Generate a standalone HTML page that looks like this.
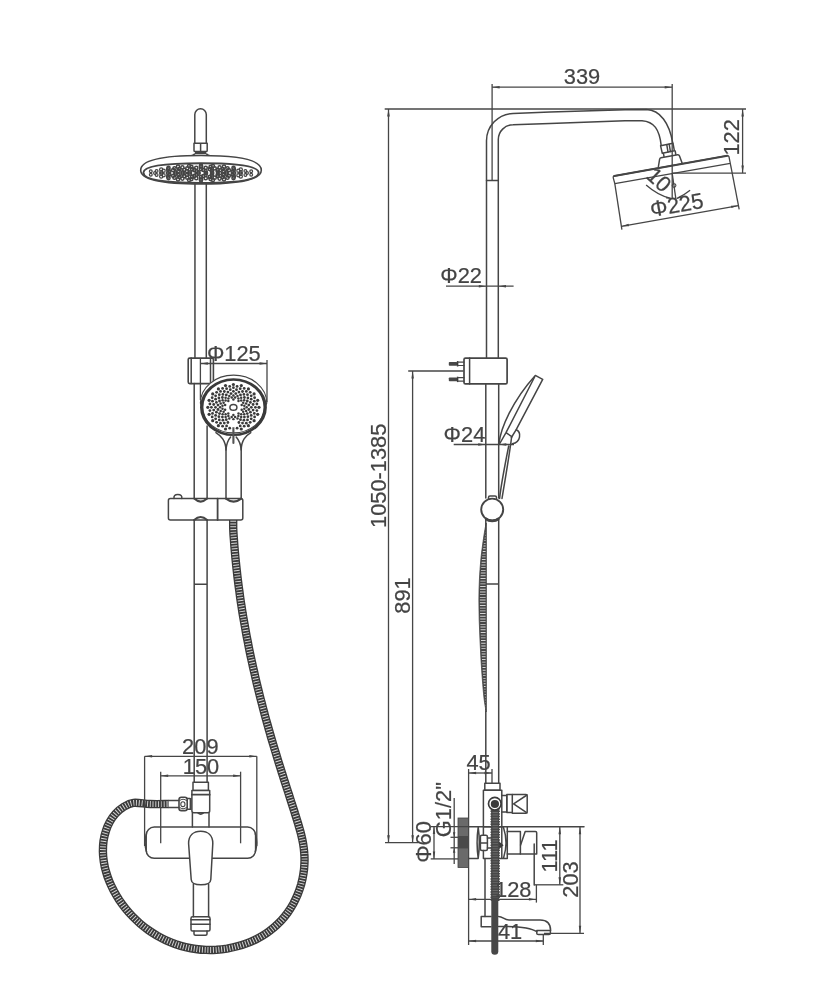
<!DOCTYPE html>
<html lang="en"><head><meta charset="utf-8"><title>Shower column dimensions</title>
<style>
html,body{margin:0;padding:0;background:#fff;}
body{width:817px;height:1000px;overflow:hidden;}
svg{display:block;will-change:transform;opacity:0.999;}
.l{fill:none;stroke:#454545;stroke-width:1.5;stroke-linejoin:round;stroke-linecap:round;}
.lf{fill:#fff;}
.d{fill:none;stroke:#464646;stroke-width:1.3;}
.ar{fill:#444;stroke:none;}
text{font-family:"Liberation Sans",Arial,Helvetica,sans-serif;font-size:21px;fill:#444;stroke:#444;stroke-width:0.2px;}
</style></head>
<body>
<svg width="817" height="1000" viewBox="0 0 817 1000">
<rect width="817" height="1000" fill="#fff"/>
<g id="left">
<path class="l" d="M194.8,143.2 V114.6 A5.75,5.8 0 0 1 206.3,114.6 V143.2"/>
<path class="l" d="M194,143.2 H207.2 V150.4 Q207.2,151.6 206,151.6 H195.2 Q194,151.6 194,150.4 Z M200.6,143.2 V151.4"/>
<path d="M195,152.9 H206.2" stroke="#454545" stroke-width="2.6" fill="none"/>
<path class="l" d="M190.4,155.9 Q193.6,155.4 194.6,154 M210.8,155.9 Q207.6,155.4 206.6,154"/>
<path class="l lf" d="M140.7,170.2 C140.7,160.4 160,155.5 201,155.5 C242,155.5 261.3,160.4 261.3,170.2 C261.3,179.4 242,184 201,184 C160,184 140.7,179.4 140.7,170.2 Z" style="stroke-width:1.6"/>
<path class="l" d="M143.4,172.6 C143.4,166.4 163,163.3 201,163.3 C239,163.3 258.6,166.4 258.6,172.6 C258.6,179.4 239,183 201,183 C163,183 143.4,179.4 143.4,172.6 Z" style="stroke-width:1.9"/>
<g fill="none" stroke="#444"><circle cx="206.0" cy="173.0" r="1.6" stroke-width="1.5"/><circle cx="198.5" cy="173.7" r="1.6" stroke-width="1.5"/><circle cx="198.5" cy="172.3" r="1.6" stroke-width="1.5"/><circle cx="212.1" cy="173.7" r="1.6" stroke-width="1.5"/><circle cx="205.6" cy="174.8" r="1.6" stroke-width="1.5"/><circle cx="196.4" cy="174.8" r="1.6" stroke-width="1.5"/><circle cx="189.9" cy="173.7" r="1.6" stroke-width="1.5"/><circle cx="189.9" cy="172.3" r="1.6" stroke-width="1.5"/><circle cx="196.4" cy="171.2" r="1.6" stroke-width="1.5"/><circle cx="205.6" cy="171.2" r="1.6" stroke-width="1.5"/><circle cx="212.1" cy="172.3" r="1.6" stroke-width="1.5"/><circle cx="220.0" cy="173.0" r="1.6" stroke-width="1.5"/><circle cx="217.8" cy="174.4" r="1.6" stroke-width="1.5"/><circle cx="211.8" cy="175.5" r="1.6" stroke-width="1.5"/><circle cx="203.3" cy="176.0" r="1.6" stroke-width="1.5"/><circle cx="194.3" cy="175.8" r="1.6" stroke-width="1.5"/><circle cx="186.8" cy="175.0" r="1.6" stroke-width="1.5"/><circle cx="182.6" cy="173.7" r="1.6" stroke-width="1.5"/><circle cx="182.6" cy="172.3" r="1.6" stroke-width="1.5"/><circle cx="186.8" cy="171.0" r="1.6" stroke-width="1.5"/><circle cx="194.3" cy="170.2" r="1.6" stroke-width="1.5"/><circle cx="203.3" cy="170.0" r="1.6" stroke-width="1.5"/><circle cx="211.8" cy="170.5" r="1.6" stroke-width="1.5"/><circle cx="217.8" cy="171.6" r="1.6" stroke-width="1.5"/><circle cx="226.6" cy="173.7" r="1.6" stroke-width="1.5"/><circle cx="223.5" cy="175.1" r="1.6" stroke-width="1.5"/><circle cx="217.7" cy="176.1" r="1.6" stroke-width="1.5"/><circle cx="209.9" cy="176.9" r="1.6" stroke-width="1.5"/><circle cx="201.0" cy="177.1" r="1.6" stroke-width="1.5"/><circle cx="192.1" cy="176.9" r="1.6" stroke-width="1.5"/><circle cx="184.3" cy="176.1" r="1.6" stroke-width="1.5"/><circle cx="178.5" cy="175.1" r="1.6" stroke-width="1.5"/><circle cx="175.4" cy="173.7" r="1.6" stroke-width="1.5"/><circle cx="175.4" cy="172.3" r="1.6" stroke-width="1.5"/><circle cx="178.5" cy="170.9" r="1.6" stroke-width="1.5"/><circle cx="184.3" cy="169.9" r="1.6" stroke-width="1.5"/><circle cx="192.1" cy="169.1" r="1.6" stroke-width="1.5"/><circle cx="201.0" cy="168.9" r="1.6" stroke-width="1.5"/><circle cx="209.9" cy="169.1" r="1.6" stroke-width="1.5"/><circle cx="217.7" cy="169.9" r="1.6" stroke-width="1.5"/><circle cx="223.5" cy="170.9" r="1.6" stroke-width="1.5"/><circle cx="226.6" cy="172.3" r="1.6" stroke-width="1.5"/><circle cx="234.0" cy="173.0" r="1.6" stroke-width="1.5"/><circle cx="232.7" cy="174.5" r="1.6" stroke-width="1.5"/><circle cx="228.8" cy="175.8" r="1.6" stroke-width="1.5"/><circle cx="222.6" cy="176.9" r="1.6" stroke-width="1.5"/><circle cx="214.7" cy="177.7" r="1.6" stroke-width="1.5"/><circle cx="205.7" cy="178.2" r="1.6" stroke-width="1.5"/><circle cx="196.3" cy="178.2" r="1.6" stroke-width="1.5"/><circle cx="187.3" cy="177.7" r="1.6" stroke-width="1.5"/><circle cx="179.4" cy="176.9" r="1.6" stroke-width="1.5"/><circle cx="173.2" cy="175.8" r="1.6" stroke-width="1.5"/><circle cx="169.3" cy="174.5" r="1.6" stroke-width="1.5"/><circle cx="168.0" cy="173.0" r="1.6" stroke-width="1.5"/><circle cx="169.3" cy="171.5" r="1.6" stroke-width="1.5"/><circle cx="173.2" cy="170.2" r="1.6" stroke-width="1.5"/><circle cx="179.4" cy="169.1" r="1.6" stroke-width="1.5"/><circle cx="187.3" cy="168.3" r="1.6" stroke-width="1.5"/><circle cx="196.3" cy="167.8" r="1.6" stroke-width="1.5"/><circle cx="205.7" cy="167.8" r="1.6" stroke-width="1.5"/><circle cx="214.7" cy="168.3" r="1.6" stroke-width="1.5"/><circle cx="222.6" cy="169.1" r="1.6" stroke-width="1.5"/><circle cx="228.8" cy="170.2" r="1.6" stroke-width="1.5"/><circle cx="232.7" cy="171.5" r="1.6" stroke-width="1.5"/><circle cx="240.7" cy="173.8" r="1.6" stroke-width="1.2"/><circle cx="238.4" cy="175.2" r="1.6" stroke-width="1.2"/><circle cx="233.9" cy="176.6" r="1.6" stroke-width="1.5"/><circle cx="227.5" cy="177.7" r="1.6" stroke-width="1.5"/><circle cx="219.6" cy="178.6" r="1.6" stroke-width="1.5"/><circle cx="210.6" cy="179.1" r="1.6" stroke-width="1.5"/><circle cx="201.0" cy="179.3" r="1.6" stroke-width="1.5"/><circle cx="191.4" cy="179.1" r="1.6" stroke-width="1.5"/><circle cx="182.4" cy="178.6" r="1.6" stroke-width="1.5"/><circle cx="174.5" cy="177.7" r="1.6" stroke-width="1.5"/><circle cx="168.1" cy="176.6" r="1.6" stroke-width="1.5"/><circle cx="163.6" cy="175.2" r="1.6" stroke-width="1.2"/><circle cx="161.3" cy="173.8" r="1.6" stroke-width="1.2"/><circle cx="161.3" cy="172.2" r="1.6" stroke-width="1.2"/><circle cx="163.6" cy="170.8" r="1.6" stroke-width="1.2"/><circle cx="168.1" cy="169.4" r="1.6" stroke-width="1.5"/><circle cx="174.5" cy="168.3" r="1.6" stroke-width="1.5"/><circle cx="182.4" cy="167.4" r="1.6" stroke-width="1.5"/><circle cx="191.4" cy="166.9" r="1.6" stroke-width="1.5"/><circle cx="201.0" cy="166.7" r="1.6" stroke-width="1.5"/><circle cx="210.6" cy="166.9" r="1.6" stroke-width="1.5"/><circle cx="219.6" cy="167.4" r="1.6" stroke-width="1.5"/><circle cx="227.5" cy="168.3" r="1.6" stroke-width="1.5"/><circle cx="233.9" cy="169.4" r="1.6" stroke-width="1.5"/><circle cx="238.4" cy="170.8" r="1.6" stroke-width="1.2"/><circle cx="240.7" cy="172.2" r="1.6" stroke-width="1.2"/><circle cx="247.0" cy="173.0" r="1.4" stroke-width="1.2"/><circle cx="245.4" cy="174.9" r="1.4" stroke-width="1.2"/><circle cx="240.8" cy="176.6" r="1.6" stroke-width="1.2"/><circle cx="233.5" cy="178.1" r="1.6" stroke-width="1.5"/><circle cx="224.0" cy="179.3" r="1.6" stroke-width="1.5"/><circle cx="212.9" cy="180.0" r="1.6" stroke-width="1.5"/><circle cx="201.0" cy="180.3" r="1.6" stroke-width="1.5"/><circle cx="189.1" cy="180.0" r="1.6" stroke-width="1.5"/><circle cx="178.0" cy="179.3" r="1.6" stroke-width="1.5"/><circle cx="168.5" cy="178.1" r="1.6" stroke-width="1.5"/><circle cx="161.2" cy="176.6" r="1.6" stroke-width="1.2"/><circle cx="156.6" cy="174.9" r="1.4" stroke-width="1.2"/><circle cx="155.0" cy="173.0" r="1.4" stroke-width="1.2"/><circle cx="156.6" cy="171.1" r="1.4" stroke-width="1.2"/><circle cx="161.2" cy="169.4" r="1.6" stroke-width="1.2"/><circle cx="168.5" cy="167.9" r="1.6" stroke-width="1.5"/><circle cx="178.0" cy="166.7" r="1.6" stroke-width="1.5"/><circle cx="189.1" cy="166.0" r="1.6" stroke-width="1.5"/><circle cx="201.0" cy="165.7" r="1.6" stroke-width="1.5"/><circle cx="212.9" cy="166.0" r="1.6" stroke-width="1.5"/><circle cx="224.0" cy="166.7" r="1.6" stroke-width="1.5"/><circle cx="233.5" cy="167.9" r="1.6" stroke-width="1.5"/><circle cx="240.8" cy="169.4" r="1.6" stroke-width="1.2"/><circle cx="245.4" cy="171.1" r="1.4" stroke-width="1.2"/><circle cx="251.2" cy="174.8" r="1.4" stroke-width="1.2"/><circle cx="150.8" cy="174.8" r="1.4" stroke-width="1.2"/><circle cx="150.8" cy="171.2" r="1.4" stroke-width="1.2"/><circle cx="251.2" cy="171.2" r="1.4" stroke-width="1.2"/></g>
<path class="l" d="M194.95,184 V357.8 M206.3,184 V357.8"/>
<path class="l" d="M194.2,383.4 V498.6 M207.1,426 V498.6"/>
<path class="l" d="M194.2,520 V782.5 M207.1,520 V782.5 M194.2,584.2 H207.1"/>
<rect class="l" x="188.2" y="358.1" width="25.2" height="25.5" rx="1.5" style="stroke-width:1.6"/>
<path class="l" d="M191.2,358 V383.6 M210.5,358 V383.6"/>
<path class="l lf" d="M200.4,403 A33.2,27.8 0 0 1 266.8,403 L265,407 A31.6,27.4 0 0 1 201.9,407 Z" style="stroke-width:1.2"/>
<path fill="#3a3a3a" fill-rule="evenodd" d="M200.0,407.2 a33.45,28.9 0 1 0 66.9,0 a33.45,28.9 0 1 0 -66.9,0 Z M203.4,407.2 a30.05,26.45 0 1 0 60.1,0 a30.05,26.45 0 1 0 -60.1,0 Z"/>
<g fill="#3a3a3a"><circle cx="233.4" cy="415.1" r="1.25"/><circle cx="233.4" cy="419.2" r="1.25"/><circle cx="231.7" cy="417.0" r="1.25"/><circle cx="229.7" cy="428.2" r="1.4"/><circle cx="229.3" cy="418.6" r="1.25"/><circle cx="227.9" cy="422.5" r="1.4"/><circle cx="226.6" cy="425.9" r="1.4"/><circle cx="225.5" cy="429.0" r="1.6"/><circle cx="228.4" cy="416.0" r="1.25"/><circle cx="226.3" cy="419.7" r="1.4"/><circle cx="224.3" cy="423.1" r="1.4"/><circle cx="222.6" cy="426.2" r="1.4"/><circle cx="228.3" cy="413.6" r="1.25"/><circle cx="225.6" cy="416.9" r="1.25"/><circle cx="222.9" cy="420.2" r="1.4"/><circle cx="220.5" cy="423.2" r="1.4"/><circle cx="218.4" cy="425.7" r="1.6"/><circle cx="225.6" cy="414.2" r="1.25"/><circle cx="222.4" cy="417.1" r="1.4"/><circle cx="219.3" cy="419.9" r="1.4"/><circle cx="216.6" cy="422.3" r="1.4"/><circle cx="222.6" cy="414.3" r="1.25"/><circle cx="218.9" cy="416.7" r="1.4"/><circle cx="215.6" cy="418.8" r="1.4"/><circle cx="212.7" cy="420.7" r="1.6"/><circle cx="223.6" cy="411.8" r="1.25"/><circle cx="219.5" cy="413.6" r="1.4"/><circle cx="215.6" cy="415.4" r="1.4"/><circle cx="212.2" cy="416.9" r="1.4"/><circle cx="225.1" cy="409.7" r="1.25"/><circle cx="220.7" cy="411.0" r="1.25"/><circle cx="216.4" cy="412.2" r="1.4"/><circle cx="212.5" cy="413.4" r="1.4"/><circle cx="209.1" cy="414.3" r="1.6"/><circle cx="222.5" cy="408.8" r="1.25"/><circle cx="218.0" cy="409.5" r="1.4"/><circle cx="213.7" cy="410.1" r="1.4"/><circle cx="209.9" cy="410.6" r="1.4"/><circle cx="220.1" cy="407.3" r="1.25"/><circle cx="215.5" cy="407.3" r="1.4"/><circle cx="211.4" cy="407.3" r="1.4"/><circle cx="207.8" cy="407.3" r="1.6"/><circle cx="222.5" cy="405.8" r="1.25"/><circle cx="218.0" cy="405.1" r="1.4"/><circle cx="213.7" cy="404.5" r="1.4"/><circle cx="209.9" cy="404.0" r="1.4"/><circle cx="225.1" cy="404.9" r="1.25"/><circle cx="220.7" cy="403.6" r="1.25"/><circle cx="216.4" cy="402.4" r="1.4"/><circle cx="212.5" cy="401.2" r="1.4"/><circle cx="209.1" cy="400.3" r="1.6"/><circle cx="223.6" cy="402.8" r="1.25"/><circle cx="219.5" cy="401.0" r="1.4"/><circle cx="215.6" cy="399.2" r="1.4"/><circle cx="212.2" cy="397.7" r="1.4"/><circle cx="222.6" cy="400.3" r="1.25"/><circle cx="218.9" cy="397.9" r="1.4"/><circle cx="215.6" cy="395.8" r="1.4"/><circle cx="212.7" cy="393.9" r="1.6"/><circle cx="225.6" cy="400.4" r="1.25"/><circle cx="222.4" cy="397.5" r="1.4"/><circle cx="219.3" cy="394.7" r="1.4"/><circle cx="216.6" cy="392.3" r="1.4"/><circle cx="228.3" cy="401.0" r="1.25"/><circle cx="225.6" cy="397.7" r="1.25"/><circle cx="222.9" cy="394.4" r="1.4"/><circle cx="220.5" cy="391.4" r="1.4"/><circle cx="218.4" cy="388.9" r="1.6"/><circle cx="228.4" cy="398.6" r="1.25"/><circle cx="226.3" cy="394.9" r="1.4"/><circle cx="224.3" cy="391.5" r="1.4"/><circle cx="222.6" cy="388.4" r="1.4"/><circle cx="229.3" cy="396.0" r="1.25"/><circle cx="227.9" cy="392.1" r="1.4"/><circle cx="226.6" cy="388.7" r="1.4"/><circle cx="225.5" cy="385.6" r="1.6"/><circle cx="231.7" cy="397.6" r="1.25"/><circle cx="231.0" cy="393.6" r="1.4"/><circle cx="230.3" cy="389.7" r="1.4"/><circle cx="229.7" cy="386.4" r="1.4"/><circle cx="233.4" cy="399.5" r="1.25"/><circle cx="233.4" cy="395.4" r="1.25"/><circle cx="233.4" cy="391.3" r="1.4"/><circle cx="233.4" cy="387.7" r="1.4"/><circle cx="233.4" cy="384.5" r="1.6"/><circle cx="235.1" cy="397.6" r="1.25"/><circle cx="235.8" cy="393.6" r="1.4"/><circle cx="236.5" cy="389.7" r="1.4"/><circle cx="237.1" cy="386.4" r="1.4"/><circle cx="237.5" cy="396.0" r="1.25"/><circle cx="238.9" cy="392.1" r="1.4"/><circle cx="240.2" cy="388.7" r="1.4"/><circle cx="241.3" cy="385.6" r="1.6"/><circle cx="238.4" cy="398.6" r="1.25"/><circle cx="240.5" cy="394.9" r="1.4"/><circle cx="242.5" cy="391.5" r="1.4"/><circle cx="244.2" cy="388.4" r="1.4"/><circle cx="238.5" cy="401.0" r="1.25"/><circle cx="241.2" cy="397.7" r="1.25"/><circle cx="243.9" cy="394.4" r="1.4"/><circle cx="246.3" cy="391.4" r="1.4"/><circle cx="248.4" cy="388.9" r="1.6"/><circle cx="241.2" cy="400.4" r="1.25"/><circle cx="244.4" cy="397.5" r="1.4"/><circle cx="247.5" cy="394.7" r="1.4"/><circle cx="250.2" cy="392.3" r="1.4"/><circle cx="244.2" cy="400.3" r="1.25"/><circle cx="247.9" cy="397.9" r="1.4"/><circle cx="251.2" cy="395.8" r="1.4"/><circle cx="254.1" cy="393.9" r="1.6"/><circle cx="243.2" cy="402.8" r="1.25"/><circle cx="247.3" cy="401.0" r="1.4"/><circle cx="251.2" cy="399.2" r="1.4"/><circle cx="254.6" cy="397.7" r="1.4"/><circle cx="241.7" cy="404.9" r="1.25"/><circle cx="246.1" cy="403.6" r="1.25"/><circle cx="250.4" cy="402.4" r="1.4"/><circle cx="254.3" cy="401.2" r="1.4"/><circle cx="257.7" cy="400.3" r="1.6"/><circle cx="244.3" cy="405.8" r="1.25"/><circle cx="248.8" cy="405.1" r="1.4"/><circle cx="253.1" cy="404.5" r="1.4"/><circle cx="256.9" cy="404.0" r="1.4"/><circle cx="246.7" cy="407.3" r="1.25"/><circle cx="251.3" cy="407.3" r="1.4"/><circle cx="255.4" cy="407.3" r="1.4"/><circle cx="259.0" cy="407.3" r="1.6"/><circle cx="244.3" cy="408.8" r="1.25"/><circle cx="248.8" cy="409.5" r="1.4"/><circle cx="253.1" cy="410.1" r="1.4"/><circle cx="256.9" cy="410.6" r="1.4"/><circle cx="241.7" cy="409.7" r="1.25"/><circle cx="246.1" cy="411.0" r="1.25"/><circle cx="250.4" cy="412.2" r="1.4"/><circle cx="254.3" cy="413.4" r="1.4"/><circle cx="257.7" cy="414.3" r="1.6"/><circle cx="243.2" cy="411.8" r="1.25"/><circle cx="247.3" cy="413.6" r="1.4"/><circle cx="251.2" cy="415.4" r="1.4"/><circle cx="254.6" cy="416.9" r="1.4"/><circle cx="244.2" cy="414.3" r="1.25"/><circle cx="247.9" cy="416.7" r="1.4"/><circle cx="251.2" cy="418.8" r="1.4"/><circle cx="254.1" cy="420.7" r="1.6"/><circle cx="241.2" cy="414.2" r="1.25"/><circle cx="244.4" cy="417.1" r="1.4"/><circle cx="247.5" cy="419.9" r="1.4"/><circle cx="250.2" cy="422.3" r="1.4"/><circle cx="238.5" cy="413.6" r="1.25"/><circle cx="241.2" cy="416.9" r="1.25"/><circle cx="243.9" cy="420.2" r="1.4"/><circle cx="246.3" cy="423.2" r="1.4"/><circle cx="248.4" cy="425.7" r="1.6"/><circle cx="238.4" cy="416.0" r="1.25"/><circle cx="240.5" cy="419.7" r="1.4"/><circle cx="242.5" cy="423.1" r="1.4"/><circle cx="244.2" cy="426.2" r="1.4"/><circle cx="237.5" cy="418.6" r="1.25"/><circle cx="238.9" cy="422.5" r="1.4"/><circle cx="240.2" cy="425.9" r="1.4"/><circle cx="241.3" cy="429.0" r="1.6"/><circle cx="235.1" cy="417.0" r="1.25"/><circle cx="237.1" cy="428.2" r="1.4"/></g>
<ellipse class="l" cx="233.4" cy="407.4" rx="3.5" ry="2.8" style="stroke-width:1.5"/>
<path d="M233.4,427 V443" stroke="#555" stroke-width="2.1" stroke-linecap="round" fill="none"/>
<path d="M232,420.4 H234.8 L236.8,422.4 V425.2 L234.8,427.2 H232 L230,425.2 V422.4 Z" fill="#fff" stroke="none"/>
<path class="l" d="M215.9,432.7 C221,436 225.6,440 226,450 V498.6 M250.8,432.7 C245.6,436 241.4,440 241.2,450 V498.6"/>
<path class="l" d="M230.6,437 C228,440 226.4,443 226,450 M236.2,437 C238.8,440 240.8,443 241.2,450"/>
<rect class="l" x="168.4" y="498.6" width="74.4" height="21.4" rx="2"/>
<path class="l" d="M217.6,498.6 V520" style="stroke-width:1.8"/>
<path class="l" d="M174,498.4 Q173.4,494.6 177.8,494.6 Q182.4,494.6 181.8,498.4"/>
<path class="l" d="M194.2,498.6 Q200.6,504.6 207.1,498.6 M194.2,520 Q200.6,514 207.1,520 M226,498.6 Q233.6,504.6 241.2,498.6" style="stroke-width:2.1"/>
<path d="M233.2,520.0 C233.2,521.7 233.1,526.9 233.3,530.4 C233.4,533.8 233.7,537.3 234.0,540.7 C234.2,544.2 234.5,547.6 234.8,551.0 C235.1,554.5 235.4,557.9 235.8,561.4 C236.1,564.8 236.5,568.2 236.9,571.7 C237.2,575.1 237.7,578.5 238.1,582.0 C238.5,585.4 239.0,588.8 239.5,592.2 C239.9,595.7 240.4,599.1 240.9,602.5 C241.5,605.9 242.0,609.3 242.5,612.8 C243.1,616.2 243.7,619.6 244.3,623.0 C244.9,626.4 245.5,629.8 246.1,633.2 C246.7,636.6 247.4,640.0 248.1,643.4 C248.7,646.8 249.4,650.2 250.1,653.6 C250.8,657.0 251.6,660.4 252.3,663.7 C253.0,667.1 253.8,670.5 254.6,673.9 C255.3,677.2 256.1,680.6 256.9,684.0 C257.7,687.3 258.6,690.7 259.4,694.1 C260.2,697.4 261.1,700.8 262.0,704.1 C262.8,707.5 263.7,710.8 264.6,714.2 C265.5,717.5 266.4,720.8 267.4,724.2 C268.3,727.5 269.2,730.8 270.2,734.1 C271.1,737.5 272.1,740.8 273.1,744.1 C274.1,747.4 275.1,750.7 276.1,754.0 C277.1,757.3 278.1,760.6 279.1,763.9 C280.2,767.2 281.2,770.4 282.2,773.7 C283.3,777.0 284.3,780.3 285.4,783.6 C286.4,786.9 287.5,790.2 288.6,793.5 C289.6,796.8 290.7,800.1 291.7,803.4 C292.8,806.7 293.9,810.0 294.9,813.3 C296.0,816.6 297.0,820.0 298.0,823.3 C299.0,826.7 300.0,830.0 300.9,833.4 C301.7,836.8 302.5,840.1 303.1,843.6 C303.7,847.0 304.1,850.4 304.3,853.8 C304.6,857.3 304.6,860.7 304.4,864.2 C304.3,867.6 303.9,871.1 303.3,874.5 C302.8,877.9 302.0,881.3 301.1,884.6 C300.1,887.9 299.0,891.2 297.7,894.4 C296.4,897.6 294.9,900.7 293.3,903.7 C291.6,906.7 289.8,909.7 287.8,912.5 C285.8,915.2 283.7,917.9 281.4,920.4 C279.0,922.9 276.6,925.3 273.9,927.5 C271.3,929.7 268.6,931.8 265.7,933.7 C262.8,935.6 259.8,937.3 256.7,938.9 C253.7,940.4 250.5,941.9 247.2,943.1 C243.9,944.3 240.6,945.4 237.2,946.3 C233.9,947.2 230.4,948.0 227.0,948.6 C223.5,949.1 220.0,949.5 216.5,949.8 C213.0,950.0 209.5,950.1 206.1,949.9 C202.6,949.8 199.1,949.5 195.7,949.0 C192.3,948.6 188.9,947.9 185.6,947.1 C182.2,946.3 178.9,945.3 175.7,944.2 C172.5,943.0 169.3,941.7 166.1,940.3 C163.0,938.9 160.0,937.3 157.0,935.6 C154.0,933.8 151.1,932.0 148.3,930.0 C145.5,928.0 142.7,925.8 140.1,923.6 C137.5,921.3 135.0,918.9 132.5,916.4 C130.1,913.9 127.8,911.3 125.6,908.6 C123.4,905.9 121.3,903.0 119.3,900.1 C117.4,897.2 115.6,894.1 113.9,891.0 C112.3,887.9 110.7,884.7 109.4,881.5 C108.1,878.3 106.9,875.0 106.0,871.6 C105.0,868.3 104.3,864.9 103.8,861.6 C103.3,858.2 102.9,854.8 102.9,851.4 C102.9,848.0 103.0,844.6 103.5,841.2 C104.0,837.9 104.7,834.5 105.8,831.3 C106.8,828.0 108.1,824.8 109.8,821.8 C111.4,818.9 113.4,816.0 115.7,813.5 C118.0,811.1 120.6,808.8 123.5,807.0 C126.5,805.2 129.1,803.4 133.5,802.9 C138.0,802.4 144.2,803.8 150.0,804.0 C155.8,804.2 165.5,804.0 168.6,804.0" fill="none" stroke="#3a3a3a" stroke-width="8.4"/><path d="M233.2,520.0 C233.2,521.7 233.1,526.9 233.3,530.4 C233.4,533.8 233.7,537.3 234.0,540.7 C234.2,544.2 234.5,547.6 234.8,551.0 C235.1,554.5 235.4,557.9 235.8,561.4 C236.1,564.8 236.5,568.2 236.9,571.7 C237.2,575.1 237.7,578.5 238.1,582.0 C238.5,585.4 239.0,588.8 239.5,592.2 C239.9,595.7 240.4,599.1 240.9,602.5 C241.5,605.9 242.0,609.3 242.5,612.8 C243.1,616.2 243.7,619.6 244.3,623.0 C244.9,626.4 245.5,629.8 246.1,633.2 C246.7,636.6 247.4,640.0 248.1,643.4 C248.7,646.8 249.4,650.2 250.1,653.6 C250.8,657.0 251.6,660.4 252.3,663.7 C253.0,667.1 253.8,670.5 254.6,673.9 C255.3,677.2 256.1,680.6 256.9,684.0 C257.7,687.3 258.6,690.7 259.4,694.1 C260.2,697.4 261.1,700.8 262.0,704.1 C262.8,707.5 263.7,710.8 264.6,714.2 C265.5,717.5 266.4,720.8 267.4,724.2 C268.3,727.5 269.2,730.8 270.2,734.1 C271.1,737.5 272.1,740.8 273.1,744.1 C274.1,747.4 275.1,750.7 276.1,754.0 C277.1,757.3 278.1,760.6 279.1,763.9 C280.2,767.2 281.2,770.4 282.2,773.7 C283.3,777.0 284.3,780.3 285.4,783.6 C286.4,786.9 287.5,790.2 288.6,793.5 C289.6,796.8 290.7,800.1 291.7,803.4 C292.8,806.7 293.9,810.0 294.9,813.3 C296.0,816.6 297.0,820.0 298.0,823.3 C299.0,826.7 300.0,830.0 300.9,833.4 C301.7,836.8 302.5,840.1 303.1,843.6 C303.7,847.0 304.1,850.4 304.3,853.8 C304.6,857.3 304.6,860.7 304.4,864.2 C304.3,867.6 303.9,871.1 303.3,874.5 C302.8,877.9 302.0,881.3 301.1,884.6 C300.1,887.9 299.0,891.2 297.7,894.4 C296.4,897.6 294.9,900.7 293.3,903.7 C291.6,906.7 289.8,909.7 287.8,912.5 C285.8,915.2 283.7,917.9 281.4,920.4 C279.0,922.9 276.6,925.3 273.9,927.5 C271.3,929.7 268.6,931.8 265.7,933.7 C262.8,935.6 259.8,937.3 256.7,938.9 C253.7,940.4 250.5,941.9 247.2,943.1 C243.9,944.3 240.6,945.4 237.2,946.3 C233.9,947.2 230.4,948.0 227.0,948.6 C223.5,949.1 220.0,949.5 216.5,949.8 C213.0,950.0 209.5,950.1 206.1,949.9 C202.6,949.8 199.1,949.5 195.7,949.0 C192.3,948.6 188.9,947.9 185.6,947.1 C182.2,946.3 178.9,945.3 175.7,944.2 C172.5,943.0 169.3,941.7 166.1,940.3 C163.0,938.9 160.0,937.3 157.0,935.6 C154.0,933.8 151.1,932.0 148.3,930.0 C145.5,928.0 142.7,925.8 140.1,923.6 C137.5,921.3 135.0,918.9 132.5,916.4 C130.1,913.9 127.8,911.3 125.6,908.6 C123.4,905.9 121.3,903.0 119.3,900.1 C117.4,897.2 115.6,894.1 113.9,891.0 C112.3,887.9 110.7,884.7 109.4,881.5 C108.1,878.3 106.9,875.0 106.0,871.6 C105.0,868.3 104.3,864.9 103.8,861.6 C103.3,858.2 102.9,854.8 102.9,851.4 C102.9,848.0 103.0,844.6 103.5,841.2 C104.0,837.9 104.7,834.5 105.8,831.3 C106.8,828.0 108.1,824.8 109.8,821.8 C111.4,818.9 113.4,816.0 115.7,813.5 C118.0,811.1 120.6,808.8 123.5,807.0 C126.5,805.2 129.1,803.4 133.5,802.9 C138.0,802.4 144.2,803.8 150.0,804.0 C155.8,804.2 165.5,804.0 168.6,804.0" fill="none" stroke="#d8d8d8" stroke-width="5.800000000000001" stroke-dasharray="0.95 1.8" stroke-dashoffset="-0.8"/>
<path class="l" d="M168.6,800.5 H179 M168.6,807.5 H179"/>
<rect class="l lf" x="179" y="797.3" width="8.2" height="13.3" rx="2.4" style="stroke-width:1.6"/>
<ellipse class="l" cx="182.9" cy="804.2" rx="2.1" ry="2.4" style="stroke-width:1.1"/>
<path class="l" d="M179.6,800.6 Q183,797.6 186.6,800.6 M179.6,807.4 Q183,810.4 186.6,807.4" style="stroke-width:1"/>
<path class="l" d="M187.2,798.6 H190 M187.2,809.3 H190"/>
<path d="M190.6,798 V810" stroke="#454545" stroke-width="2" fill="none"/>
<path class="l lf" d="M193,782.3 H208.4 V790.4 H193 Z"/>
<path class="l lf" d="M191.9,790.4 H209.7 V810.7 Q209.7,812.7 207.7,812.7 H193.9 Q191.9,812.7 191.9,810.7 Z"/>
<path class="l" d="M191.9,794.7 H209.7" style="stroke-width:1.8"/>
<path class="l" d="M192.4,812.7 V827 M209,812.7 V827 M198,812.9 Q200.6,815.4 203.4,812.9"/>
<rect class="l" x="146.2" y="827.1" width="109.4" height="31.2" rx="8"/>
<path class="l" d="M146.4,834 Q143.8,842.7 146.4,851.5 M255.4,834 Q258,842.7 255.4,851.5"/>
<path class="l lf" d="M188.6,843.5 C188.6,835.5 193.5,831.2 200.7,831.2 C207.9,831.2 212.8,835.5 212.8,843.5 L210.8,879.5 Q210.5,884.8 201,884.8 Q191.5,884.8 191.2,879.5 Z"/>
<path class="l" d="M193.4,884 V916.7 M208.6,884 V916.7"/>
<rect class="l" x="191" y="916.7" width="19" height="14.3" rx="1.5"/>
<path class="l" d="M191,919.7 H210 M191,924.3 H210"/>
<path class="l" d="M194,931 V934 Q194,935.2 195.5,935.2 H205.5 Q207,935.2 207,934 V931"/>
<path class="d" d="M144.6,756.3 L144.6,846"/><path class="d" d="M256.8,756.3 L256.8,846"/>
<path class="d" d="M144.6,756.3 L256.8,756.3"/><path class="ar" d="M144.6,756.3 L152.1,755.0 L152.1,757.5Z"/><path class="ar" d="M256.8,756.3 L249.3,757.5 L249.3,755.0Z"/>
<path class="d" d="M160.7,771.7 L160.7,843.3"/><path class="d" d="M240.6,771.7 L240.6,843.3"/>
<path class="d" d="M160.7,775.8 L240.6,775.8"/><path class="ar" d="M160.7,775.8 L168.2,774.5 L168.2,777.0Z"/><path class="ar" d="M240.6,775.8 L233.1,777.0 L233.1,774.5Z"/>
<text transform="translate(200.3 753.9) scale(1.04 1.05)" text-anchor="middle">209</text>
<text transform="translate(201 774.2) scale(1.04 1.05)" text-anchor="middle">150</text>
<path class="d" d="M200.4,358 L200.4,400"/><path class="d" d="M267,360 L267,402"/>
<path class="d" d="M200.4,363.5 L267,363.5"/><path class="ar" d="M200.4,363.5 L207.9,362.2 L207.9,364.8Z"/><path class="ar" d="M267.0,363.5 L259.5,364.8 L259.5,362.2Z"/>
<text transform="translate(206.9 361.3) scale(1.04 1.05)" text-anchor="start">Φ125</text>
</g>
<g id="right">
<path class="d" d="M384.7,109 L746,109"/>
<path class="d" d="M388.5,109 L388.5,842.7"/><path class="ar" d="M388.5,109.0 L389.8,116.5 L387.2,116.5Z"/><path class="ar" d="M388.5,842.7 L387.2,835.2 L389.8,835.2Z"/>
<path class="d" d="M412.6,371 L412.6,842.7"/><path class="ar" d="M412.6,371.0 L413.9,378.5 L411.4,378.5Z"/><path class="ar" d="M412.6,842.7 L411.4,835.2 L413.9,835.2Z"/>
<path class="d" d="M385,842.7 L418,842.7"/>
<path class="d" d="M408.2,371 L463.6,371"/>
<text transform="translate(386.2 475.8) rotate(-90) scale(1.04 1.05)" text-anchor="middle">1050-1385</text>
<text transform="translate(410.2 595.5) rotate(-90) scale(1.04 1.05)" text-anchor="middle">891</text>
<path class="d" d="M492.1,84 L492.1,180.4"/>
<path class="d" d="M492.1,87.2 L672.2,87.2"/><path class="ar" d="M492.1,87.2 L499.6,86.0 L499.6,88.5Z"/><path class="ar" d="M672.2,87.2 L664.7,88.5 L664.7,86.0Z"/>
<text transform="translate(582 84.3) scale(1.04 1.05)" text-anchor="middle">339</text>
<path class="d" d="M742.6,109 L742.6,173.1"/><path class="ar" d="M742.6,109.0 L743.9,116.5 L741.4,116.5Z"/><path class="ar" d="M742.6,173.1 L741.4,165.6 L743.9,165.6Z"/>
<text transform="translate(739.2 137.4) rotate(-90) scale(1.04 1.05)" text-anchor="middle">122</text>
<path class="l" d="M486.5,357.8 V141 A27.5,27.5 0 0 1 513,113.4 L550,112 L625,109.7 L646.4,109.6 C660,110 669.5,123 672.8,143.3"/>
<path class="l" d="M498.3,357.8 V139.5 A14.8,14.8 0 0 1 513,124.8 L550,123.5 L625,120.8 L642,120.7 C654,121.5 659.5,129.5 661.2,145.6"/>
<path class="l" d="M486.5,180.5 H498.3"/>
<path class="l lf" d="M660.6,145.8 L673,143.3 L674.4,150.8 L662.3,153.3 Z"/>
<path class="l" d="M666.8,144.8 L668,152 M669.2,144.3 L670.4,151.5"/>
<path class="l" d="M663.4,153.4 L664,156.4 M675.2,151 L675.8,154.4"/>
<path class="l lf" d="M658.4,166.5 L659.6,159.3 Q659.8,158 661,157.8 L677.6,154.8 Q679,154.6 679.5,156 L682.2,163.2"/>
<path class="l lf" d="M614.8,183.7 L613.2,177.6 Q613,176.3 614.2,176 L727.2,155.7 Q728.6,155.5 729,156.8 L730.3,163.4 Z" style="stroke-width:1.3"/>
<path class="l" d="M614.2,176 L727.4,155.7" style="stroke-width:2"/>
<path class="d" d="M614.8,183.7 L621.9,229.6"/><path class="d" d="M730.3,163.4 L739.2,209.4"/>
<path class="d" d="M621.4,226.3 L738.6,205.6"/><path class="ar" d="M621.4,226.3 L628.6,223.8 L629.0,226.2Z"/><path class="ar" d="M738.6,205.6 L731.4,208.1 L731.0,205.7Z"/>
<text transform="translate(678 212.4) rotate(-10) scale(1.04 1.05)" text-anchor="middle">Φ225</text>
<path class="d" d="M672.2,84 L672.2,198.8"/>
<path class="d" d="M672.2,173.1 L746,173.1"/>
<path class="d" d="M672.3,174 L675.9,199.2"/>
<path class="d" d="M646.1,185 Q658,195.5 671,198.5"/><path class="ar" d="M672.2,198.8 L666.1,198.4 L666.5,196.7Z"/>
<path class="d" d="M690.1,190.3 Q684,195.3 677,198.3"/><path class="ar" d="M675.9,198.9 L681.1,195.8 L681.8,197.5Z"/>
<text transform="translate(644.9 177) rotate(43) scale(1.04 1.05)" text-anchor="start">10<tspan dx="-0.45" dy="-4.7" style="font-size:15px">°</tspan></text>
<path class="d" d="M446,286.2 L513.6,286.2"/><path class="ar" d="M486.3,286.2 L478.8,287.4 L478.8,284.9Z"/><path class="ar" d="M498.5,286.2 L506.0,284.9 L506.0,287.4Z"/>
<text transform="translate(440.3 282.5) scale(1.04 1.05)" text-anchor="start">Φ22</text>
<rect class="l lf" x="464" y="358.1" width="43.1" height="25.8" rx="1.5" style="stroke-width:1.7"/>
<path class="l" d="M469.6,358 V384"/>
<rect x="448.8" y="361.90000000000003" width="8.4" height="3.8" rx="0.8" fill="#484848"/>
<path d="M457.6,361.1 V366.5" stroke="#3a3a3a" stroke-width="1.5" fill="none"/>
<path class="l" d="M457.6,362.1 H464 M457.6,365.5 H464" style="stroke-width:1.2"/>
<rect x="448.8" y="377.5" width="8.4" height="3.8" rx="0.8" fill="#484848"/>
<path d="M457.6,376.7 V382.09999999999997" stroke="#3a3a3a" stroke-width="1.5" fill="none"/>
<path class="l" d="M457.6,377.7 H464 M457.6,381.09999999999997 H464" style="stroke-width:1.2"/>
<path class="l" d="M485.8,384.2 V498 M498.7,384.2 V498 M485.8,519 V783 M498.7,519 V783 M485.8,584 H498.7"/>
<path class="d" d="M453.7,444.5 L514,444.5"/><path class="ar" d="M485.7,444.5 L478.2,445.8 L478.2,443.2Z"/><path class="ar" d="M498.8,444.5 L506.3,443.2 L506.3,445.8Z"/>
<text transform="translate(443.6 441.8) scale(1.04 1.05)" text-anchor="start">Φ24</text>
<path class="l" d="M498.9,444 C500.5,428 513,400 535.3,375.4 L542.7,379.3 L516.2,429.7 L511.4,437.5"/>
<path class="l" d="M534.6,377 L506,432.7 L499.8,443.5 M506,432.7 L511.8,436.6"/>
<path class="l" d="M516.2,429.7 C521.5,432 521,442.5 512.3,443.7"/>
<path class="l" d="M511.6,437 C509.5,455 505,480 502,498.5 M508.7,446 C505.5,462 501,485 499.6,498.5"/>
<path class="l" d="M488.5,499 V497.4 Q488.5,496 490,496 H495 Q496.5,496 496.5,497.4 V499"/>
<circle class="l lf" cx="492.2" cy="509.6" r="11" style="stroke-width:1.9"/>
<path d="M485.5,518.6 A11,11 0 0 0 498.9,518.6" fill="none" stroke="#454545" stroke-width="2.6"/>
<path d="M486.2,523.0 C485.9,524.5 485.1,528.3 484.5,532.0 C483.9,535.7 483.2,540.3 482.6,545.0 C482.0,549.7 481.3,554.2 480.8,560.0 C480.3,565.8 479.7,573.3 479.4,580.0 C479.1,586.7 478.9,593.3 478.9,600.0 C478.9,606.7 479.0,613.3 479.2,620.0 C479.4,626.7 479.7,633.3 480.0,640.0 C480.3,646.7 480.6,653.3 481.0,660.0 C481.4,666.7 481.9,673.7 482.4,680.0 C482.9,686.3 483.4,692.7 484.0,698.0 C484.6,703.3 485.8,709.7 486.2,712.0 Z" fill="#454545" stroke="#454545" stroke-width="0.8"/>
<clipPath id="lens2"><path d="M485.6,523.0 C485.6,524.5 485.8,528.3 485.5,532.0 C485.2,535.7 484.2,540.3 483.6,545.0 C483.0,549.7 482.3,554.2 481.8,560.0 C481.3,565.8 480.7,573.3 480.4,580.0 C480.1,586.7 479.9,593.3 479.9,600.0 C479.9,606.7 480.0,613.3 480.2,620.0 C480.4,626.7 480.7,633.3 481.0,640.0 C481.3,646.7 481.6,653.3 482.0,660.0 C482.4,666.7 482.9,673.7 483.4,680.0 C483.9,686.3 484.6,692.7 485.0,698.0 C485.4,703.3 485.5,709.7 485.6,712.0 L485.6,712 L485.6,523 Z"/></clipPath>
<path d="M483,524 V711" fill="none" stroke="#d4d4d4" stroke-width="9" stroke-dasharray="0.9 1.8" clip-path="url(#lens2)"/>
<path class="d" d="M468.6,769 L468.6,945"/>
<path class="d" d="M492,769 L492,783"/>
<path class="d" d="M468.6,773 L492,773"/><path class="ar" d="M468.6,773.0 L476.1,771.8 L476.1,774.2Z"/><path class="ar" d="M492.0,773.0 L484.5,774.2 L484.5,771.8Z"/>
<text transform="translate(478.6 769.8) scale(1.04 1.05)" text-anchor="middle">45</text>
<rect class="l lf" x="484.8" y="783.2" width="15.2" height="7"/>
<rect class="l lf" x="483.4" y="790.3" width="18.4" height="36.5"/>
<path class="l" d="M501.8,795.6 H506.8 V812 H501.8"/>
<rect class="l" x="506.8" y="794.6" width="5.5" height="18" />
<path class="l" d="M512.3,794.6 H526 Q527.2,794.6 527.2,796 V811.6 Q527.2,813.2 526,813.2 H512.3"/>
<path class="l" d="M527,795 L513.6,803.8 L527,812.8"/>
<path class="l" d="M468.6,826.8 L584,826.8"/>
<rect x="458" y="818" width="10.6" height="49.6" fill="#6a6a6a" stroke="#444" stroke-width="0.8"/>
<rect x="458" y="836" width="10.6" height="12.4" fill="#4a4a4a"/>
<path class="l" d="M468.6,858.4 H478 M478.2,827 Q476,842.5 478.2,858.4 M478.2,827 Q480.4,842.5 478.2,858.4"/>
<rect class="l" x="480.4" y="835.2" width="7" height="15.4" rx="1.5"/>
<path class="l" d="M480.4,842.9 H487.4"/>
<path class="l" d="M483.4,827 V835 M483.4,850.6 V858.4 M483.4,858.4 H503 M501.8,827 V858 M503.5,827.5 Q508.5,842.5 503.5,858.2 M507.3,827 V858.4 M503,858.4 H507.3"/>
<path class="l" d="M487.4,838 H491 M487.4,848 H491"/>
<path class="l" d="M507.3,831.4 H520.4 V854 H507.3"/>
<path class="l" d="M520.6,845 L525.2,831.4 H535.4 Q536.7,831.4 536.7,832.8 V854 H520.4"/>
<path class="l" d="M534.2,844 V885"/>
<path d="M498.4,841 L503.6,845.3 L498.4,849.6 Z" fill="#3a3a3a"/>
<path class="l" d="M485,858.4 V916.5"/>
<path class="l" d="M491,916.5 H481.2 V926.8 H491"/>
<path class="l" d="M498.6,916.5 C503,916.5 504,920 509,920 H540 C547,920 550.6,924 550.6,930.5 M498.6,926.4 C510,926.4 528,926 536.8,931.6"/>
<path class="l" d="M536.8,930.6 H550.4 V933.4 Q550.4,934.4 549,934.4 H538.4 Q536.8,934.4 536.8,933.4 Z"/>
<path d="M494.8,806 V951.3" stroke="#474747" stroke-width="7" stroke-linecap="round" fill="none"/>
<path d="M495.2,808 V901" stroke="#474747" stroke-width="9.4" stroke-dasharray="1.5 1.1" fill="none"/>
<path d="M495.2,808 V901" stroke="#474747" stroke-width="7.8" fill="none"/>
<path d="M495.2,812 V898" stroke="#6c6c6c" stroke-width="5.4" stroke-dasharray="0.9 1.7" fill="none"/>
<circle cx="494.8" cy="803.7" r="6.3" fill="#fff" stroke="#3a3a3a" stroke-width="1.7"/>
<circle cx="494.9" cy="804" r="4.1" fill="#3a3a3a"/>
<path class="d" d="M430.7,826.6 L468.6,826.6"/><path class="d" d="M430.7,858.9 L458,858.9"/>
<path class="d" d="M434,826.6 L434,858.9"/><path class="ar" d="M434.0,826.6 L435.2,834.1 L432.8,834.1Z"/><path class="ar" d="M434.0,858.9 L432.8,851.4 L435.2,851.4Z"/>
<text transform="translate(431.2 842) rotate(-90) scale(1.04 1.05)" text-anchor="middle">Φ60</text>
<path class="d" d="M454.2,798 L454.2,864"/>
<path class="d" d="M450.5,837.3 L458,837.3"/><path class="d" d="M450.5,847.8 L458,847.8"/>
<path class="ar" d="M454.2,837.3 L452.9,832.3 L455.4,832.3Z"/><path class="ar" d="M454.2,847.8 L455.4,852.8 L452.9,852.8Z"/>
<text transform="translate(450.6 837.2) rotate(-90) scale(1.04 1.05)" text-anchor="start">G1/2"</text>
<path class="d" d="M559.8,826.8 L559.8,884.8"/><path class="ar" d="M559.8,826.8 L561.0,834.3 L558.5,834.3Z"/><path class="ar" d="M559.8,884.8 L558.5,877.3 L561.0,877.3Z"/>
<path class="d" d="M534.2,884.8 L563.3,884.8"/>
<text transform="translate(556.8 856) rotate(-90) scale(1.04 1.05)" text-anchor="middle">111</text>
<path class="d" d="M580,826.8 L580,933.3"/><path class="ar" d="M580.0,826.8 L581.2,834.3 L578.8,834.3Z"/><path class="ar" d="M580.0,933.3 L578.8,925.8 L581.2,925.8Z"/>
<path class="d" d="M544,933.3 L584,933.3"/>
<text transform="translate(577.6 879.5) rotate(-90) scale(1.04 1.05)" text-anchor="middle">203</text>
<path class="d" d="M536.4,885 L536.4,902.6"/>
<path class="d" d="M468.6,899.4 L536.4,899.4"/><path class="ar" d="M468.6,899.4 L476.1,898.1 L476.1,900.6Z"/><path class="ar" d="M536.4,899.4 L528.9,900.6 L528.9,898.1Z"/>
<text transform="translate(531.5 896.8) scale(1.04 1.05)" text-anchor="end">128</text>
<path class="d" d="M543.3,934.5 L543.3,945"/>
<path class="d" d="M468.6,941 L543.3,941"/><path class="ar" d="M468.6,941.0 L476.1,939.8 L476.1,942.2Z"/><path class="ar" d="M543.3,941.0 L535.8,942.2 L535.8,939.8Z"/>
<text transform="translate(522.2 939) scale(1.04 1.05)" text-anchor="end">41</text>
</g>
</svg>
</body></html>
